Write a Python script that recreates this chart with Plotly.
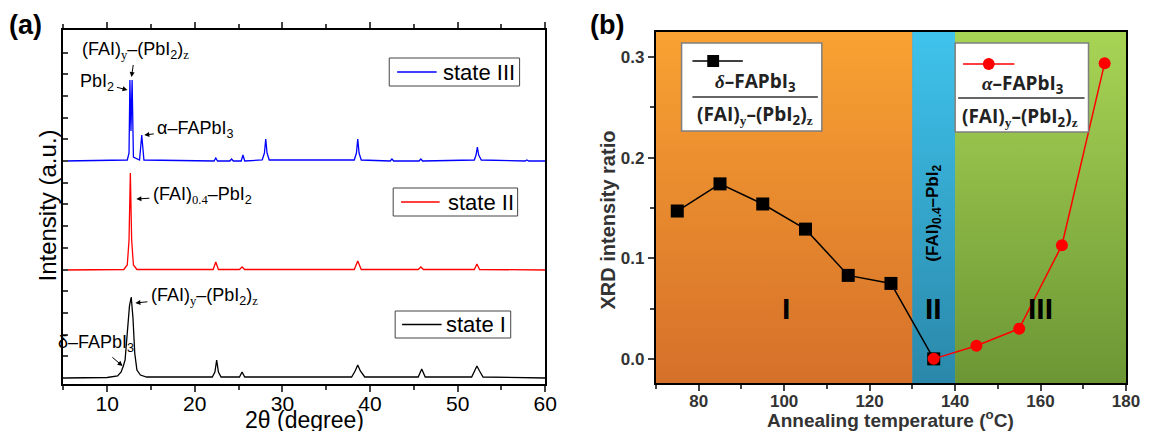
import plotly.graph_objects as go

# ---------------- panel (a): XRD patterns ----------------
x_I = [5, 10, 11.2, 11.6, 11.85, 12.05, 12.3, 12.55, 12.75, 12.95, 13.15, 13.4, 13.8, 14.5,
       22.0, 22.3, 22.5, 22.7, 23.0, 25.1, 25.4, 25.7, 37.9, 38.3, 38.6, 38.9, 39.4,
       45.5, 45.9, 46.3, 51.6, 52.0, 52.2, 52.5, 52.9, 60]
y_I = [0, 0.5, 2, 6, 12, 18, 45, 72, 81, 60, 25, 8, 3, 1,
       1, 6, 18, 6, 1, 1, 6, 1, 1, 7, 13, 7, 1,
       1, 9, 1, 1, 8, 12, 7, 1, 0]

x_II = [5, 11.9, 12.3, 12.5, 12.65, 12.8, 13.0, 13.4, 22.1, 22.4, 22.7, 25.1, 25.4, 25.7,
        38.2, 38.6, 39.0, 45.5, 45.8, 46.1, 51.9, 52.2, 52.5, 60]
y_II = [0, 0.5, 5, 30, 97, 30, 5, 0.5, 0.5, 8, 0.5, 0.5, 3, 0.5,
        0.5, 9, 0.5, 0.5, 3, 0.5, 0.5, 6, 0.5, 0]

x_III = [5, 12.3, 12.5, 12.6, 12.72, 12.85, 13.0, 13.7, 13.95, 14.2, 22.2, 22.4, 22.6,
         24.0, 24.2, 24.4, 25.3, 25.5, 25.7, 27.7, 27.95, 28.1, 28.25, 28.5,
         38.2, 38.45, 38.6, 38.75, 39.0, 42.3, 42.5, 42.7, 45.6, 45.8, 46.0,
         51.9, 52.1, 52.25, 52.4, 52.7, 57.7, 57.9, 58.1, 60]
y_III = [0, 1, 8, 81, 30, 81, 4, 1, 26, 1, 0, 3, 0,
         0, 2, 0, 0, 6, 0, 1, 8, 22, 8, 1,
         1, 8, 22, 8, 1, 0, 2, 0, 0, 2, 0,
         1, 6, 14, 6, 1, 0, 1, 0, 0]

offsets = [6, 114, 223]
state_names = ["state I", "state II", "state III"]
state_colors = ["#000000", "#ff0000", "#0000ff"]

# ---------------- panel (b): XRD intensity ratios ----------------
temp_delta = [75, 85, 95, 105, 115, 125, 135]
ratio_delta = [0.147, 0.174, 0.154, 0.129, 0.083, 0.075, 0.0]
temp_alpha = [135, 145, 155, 165, 175]
ratio_alpha = [0.0, 0.013, 0.030, 0.113, 0.294]

region_edges = [70, 130, 140, 180]
region_labels = ["I", "II", "III"]
region_top = ["#F9A232", "#3FC3EC", "#A8D455"]
region_bottom = ["#D5702A", "#2A88AA", "#6C9634"]
yb_range = [-0.024, 0.325]

# page margin of 8 px; the figure area available in the window is 1134 x 423
OFF = 8
W, H = 1134, 423


def px(xp):
    return (xp - OFF) / W


def py(yp):
    return 1 - (yp - OFF) / H


fig = go.Figure()

# region backgrounds (b)
for i in range(3):
    x0, x1 = region_edges[i], region_edges[i + 1]
    fig.add_trace(go.Scatter(
        x=[x0, x1, x1, x0, x0], y=[yb_range[0], yb_range[0], yb_range[1], yb_range[1], yb_range[0]],
        fill="toself", mode="lines", line=dict(width=0),
        fillgradient=dict(type="vertical", colorscale=[[0, region_bottom[i]], [1, region_top[i]]]),
        xaxis="x2", yaxis="y2", hoverinfo="skip", showlegend=False))

# XRD patterns (a)
pattern_x = [x_I, x_II, x_III]
pattern_y = [y_I, y_II, y_III]
for k in range(3):
    fig.add_trace(go.Scatter(
        x=pattern_x[k], y=[v + offsets[k] for v in pattern_y[k]], mode="lines",
        line=dict(color=state_colors[k], width=1.3), name=state_names[k],
        xaxis="x", yaxis="y", showlegend=False))

# ratio curves (b)
fig.add_trace(go.Scatter(x=temp_delta, y=ratio_delta, mode="lines+markers",
                         line=dict(color="black", width=1.5),
                         marker=dict(symbol="square", size=13, color="black"),
                         xaxis="x2", yaxis="y2", showlegend=False))
fig.add_trace(go.Scatter(x=temp_alpha, y=ratio_alpha, mode="lines+markers",
                         line=dict(color="#ff0000", width=1.5),
                         marker=dict(symbol="circle", size=12, color="#ff0000"),
                         xaxis="x2", yaxis="y2", showlegend=False))

afont = "Liberation Sans, Arial, sans-serif"
bfont = "Liberation Sans, Arial, sans-serif"
ser = "<span style='font-family:Liberation Serif'>"

annotations = []
shapes = []


def ann(text, cx, cy, size, family=afont, color="black", **kw):
    d = dict(text=text, x=px(cx), y=py(cy), xref="paper", yref="paper", showarrow=False,
             xanchor="center", yanchor="middle", font=dict(size=size, family=family, color=color))
    d.update(kw)
    annotations.append(d)


# panel labels
ann("<b>(a)</b>", 26, 25, 27)
ann("<b>(b)</b>", 614, 25, 27)

# axis titles
ann("2θ (degree)", 308, 420, 23)
ann("Intensity (a.u.)", 47, 206, 24, textangle=-90)
ann("<b>Annealing temperature (<sup>o</sup>C)</b>", 902, 419, 19, family=bfont, color="#333333")
ann("<b>XRD intensity ratio</b>", 616, 220, 20, family=bfont, color="#333333", textangle=-90)

# (a) peak labels with arrows: text centre, arrow tip
a_labels = [
    ("(FAI)<sub>" + ser + "y</span></sub>–(PbI<sub>2</sub>)<sub>" + ser + "z</span></sub>", (137, 50), (133, 77)),
    ("PbI<sub>2</sub>", (98, 82), (129, 90)),
    ("α–FAPbI<sub>3</sub>", (197, 129), (146, 135)),
    ("(FAI)<sub>" + ser + "0.4</span></sub>–PbI<sub>2</sub>", (204, 195), (138, 199)),
    ("(FAI)<sub>" + ser + "y</span></sub>–(PbI<sub>2</sub>)<sub>" + ser + "z</span></sub>", (206, 296), (137, 303)),
    ("δ–FAPbI<sub>3</sub>", (97, 343), (124, 366)),
]
for t, (cx, cy), (hx, hy) in a_labels:
    annotations.append(dict(text=t, x=px(hx), y=py(hy), xref="paper", yref="paper",
                            ax=cx - hx, ay=cy - hy, showarrow=True, arrowhead=2, arrowsize=1,
                            arrowwidth=1, arrowcolor="black", standoff=0, startstandoff=2,
                            font=dict(size=18, family=afont, color="black")))

# (a) legend boxes: box, sample line, text
a_leg = [  # (x0, y0, x1, y1, line x0, line x1, text centre x)
    (400, 311, 517, 338, 407, 447, 482),
    (398, 188, 524, 216, 406, 445, 487),
    (394, 58, 526, 86, 402, 442, 485),
]
for k in range(3):
    x0, y0, x1, y1, l0, l1, tx = a_leg[k]
    ym = (y0 + y1) / 2
    shapes.append(dict(type="rect", xref="paper", yref="paper", x0=px(x0), x1=px(x1), y0=py(y1), y1=py(y0),
                       fillcolor="white", line=dict(color="#444444", width=1)))
    shapes.append(dict(type="line", xref="paper", yref="paper", x0=px(l0), x1=px(l1), y0=py(ym), y1=py(ym),
                       line=dict(color=state_colors[k], width=1.3)))
    ann(state_names[k], tx, ym, 22)

# (b) region labels
for i in range(3):
    annotations.append(dict(text="<b>" + region_labels[i] + "</b>",
                            x=(region_edges[i] + region_edges[i + 1]) / 2 if i else 100.5,
                            y=0.05, xref="x2", yref="y2", showarrow=False,
                            font=dict(size=30, family=bfont, color="black")))
annotations.append(dict(text="<b>(FAI)<sub>0.4</sub>–PbI<sub>2</sub></b>", x=135, y=0.145,
                        xref="x2", yref="y2", showarrow=False, textangle=-90,
                        font=dict(size=17, family=bfont, color="black")))

# (b) legend boxes
lfont = "Open Sans, Noto Sans, sans-serif"
boxes = [
    dict(x0=690, x1=832, y0=43, y1=131, color="black", sym="square", mx=722, ly=61,
         lx0=701, lx1=752, fy=97, fx0=701, fx1=828,
         num="<i>" + ser + "δ</span></i>–FAPbI<sub>3</sub>", nx=765, ny=82, dx=764, dy=115),
    dict(x0=967, x1=1102, y0=43, y1=132, color="#ff0000", sym="circle", mx=1001, ly=64,
         lx0=975, lx1=1027, fy=98, fx0=970, fx1=1098,
         num="<i>" + ser + "α</span></i>–FAPbI<sub>3</sub>", nx=1036, ny=84, dx=1033, dy=117),
]
for b in boxes:
    shapes.append(dict(type="rect", xref="paper", yref="paper", x0=px(b["x0"]), x1=px(b["x1"]),
                       y0=py(b["y1"]), y1=py(b["y0"]), fillcolor="white",
                       line=dict(color="#7f7f7f", width=1.5), layer="above"))
    shapes.append(dict(type="line", xref="paper", yref="paper", x0=px(b["lx0"]), x1=px(b["lx1"]),
                       y0=py(b["ly"]), y1=py(b["ly"]), line=dict(color=b["color"], width=1.5),
                       layer="above"))
    r = 6
    shapes.append(dict(type="rect" if b["sym"] == "square" else "circle", xref="paper", yref="paper",
                       x0=px(b["mx"] - r), x1=px(b["mx"] + r), y0=py(b["ly"] + r), y1=py(b["ly"] - r),
                       fillcolor=b["color"], line=dict(color=b["color"], width=0), layer="above"))
    shapes.append(dict(type="line", xref="paper", yref="paper", x0=px(b["fx0"]), x1=px(b["fx1"]),
                       y0=py(b["fy"]), y1=py(b["fy"]), line=dict(color="#333333", width=1.5),
                       layer="above"))
    ann("<b>" + b["num"] + "</b>", b["nx"], b["ny"], 19, family=lfont, color="#222222")
    ann("<b>(FAI)<sub>" + ser + "y</span></sub>–(PbI<sub>2</sub>)<sub>" + ser + "z</span></sub></b>",
        b["dx"], b["dy"], 19, family=lfont, color="#222222")

# region edge lines
for e in region_edges[1:3]:
    shapes.append(dict(type="line", xref="x2", yref="y2", x0=e, x1=e, y0=yb_range[0], y1=yb_range[1],
                       line=dict(color="rgba(60,60,60,0.6)", width=1.5), layer="below"))

fig.update_layout(
    width=W, height=H, margin=dict(l=0, r=0, t=0, b=0),
    paper_bgcolor="white", plot_bgcolor="rgba(0,0,0,0)",
    xaxis=dict(domain=[px(64), px(552)], range=[5, 60], anchor="y", tickmode="linear", tick0=0, dtick=10,
               ticks="outside", ticklen=6, tickwidth=2, showline=True, linewidth=2, linecolor="black",
               mirror="ticks", showgrid=False, zeroline=False, ticklabelstandoff=-6,
               minor=dict(tick0=5, dtick=10, ticks="outside", ticklen=4, tickwidth=2),
               tickfont=dict(size=21, family=afont, color="black")),
    yaxis=dict(domain=[py(384), py(30)], range=[0, 354], anchor="x", tickmode="linear", tick0=6, dtick=21.7,
               ticks="inside", ticklen=5, tickwidth=2, showticklabels=False, showline=True, linewidth=2,
               linecolor="black", mirror=True, showgrid=False, zeroline=False),
    yaxis3=dict(overlaying="y", side="right", anchor="x", range=[0, 354], tickmode="linear", tick0=6,
                dtick=21.7, ticks="outside", ticklen=5, tickwidth=2, showticklabels=False,
                showline=False, showgrid=False, zeroline=False),
    xaxis2=dict(domain=[px(664), px(1140)], range=[70, 180], anchor="y2", tickmode="linear", tick0=0, dtick=20,
                ticks="outside", ticklen=6, tickwidth=1.5, showline=True, linewidth=2, linecolor="black",
                mirror=True, showgrid=False, zeroline=False, ticklabelstandoff=-4,
                ticklabeloverflow="allow",
                minor=dict(tick0=0, dtick=10, ticks="outside", ticklen=4, tickwidth=1.5),
                tickfont=dict(size=17, family=bfont, color="#333333", weight="bold")),
    yaxis2=dict(domain=[py(383), py(32)], range=yb_range, anchor="x2", tickmode="linear", tick0=0, dtick=0.1,
                tickformat=".1f", ticks="outside", ticklen=6, tickwidth=1.5, showline=True, linewidth=2,
                linecolor="black", mirror=True, showgrid=False, zeroline=False,
                minor=dict(tick0=0, dtick=0.05, ticks="outside", ticklen=4, tickwidth=1.5),
                tickfont=dict(size=17, family=bfont, color="#333333", weight="bold")),
    annotations=annotations, shapes=shapes,
)

fig.write_html("out.html")
